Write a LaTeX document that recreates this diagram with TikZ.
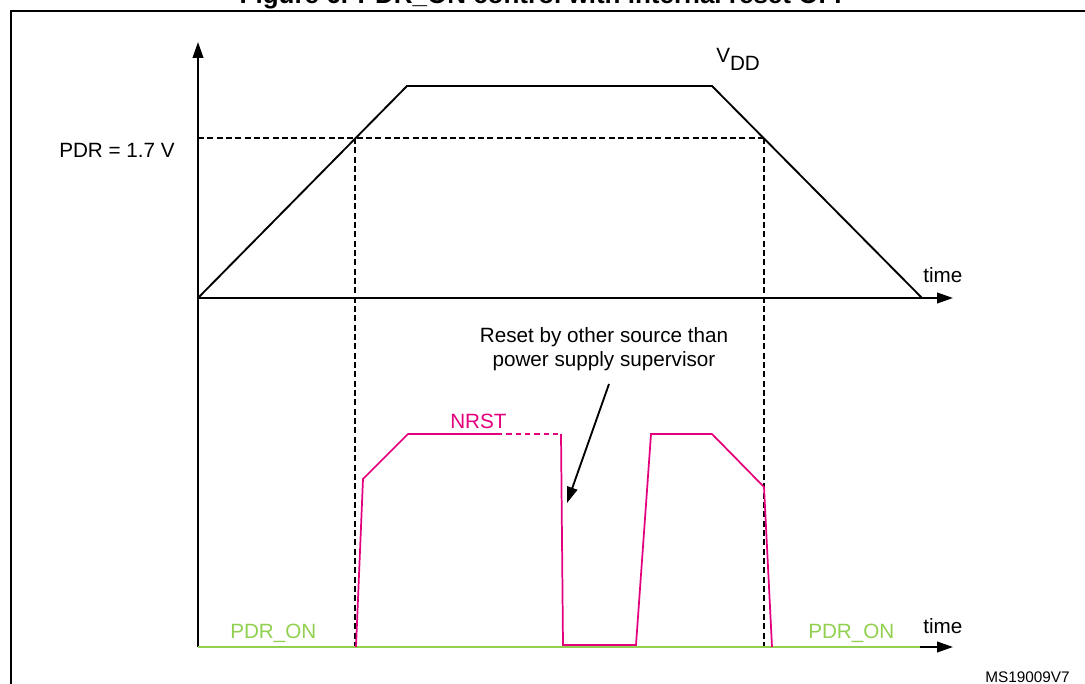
\documentclass[tikz,border=0pt]{standalone}
\usepackage{fontspec}
\setmainfont{Liberation Sans}
\usetikzlibrary{arrows.meta}
\definecolor{nrst-magenta}{RGB}{228,0,124}
\definecolor{pdr-green}{RGB}{146,208,80}
\tikzset{
    axis-line/.style = {draw=black, line width=1.4pt, -{Triangle[length=12pt,width=8pt]}},
    vdd-line/.style = {draw=black, line width=1.4pt},
    level-line/.style = {draw=black, line width=0.9pt, dash pattern=on 4.5pt off 2.5pt},
    nrst-line/.style = {draw=nrst-magenta, line width=1.3pt},
    pdr-line/.style = {draw=pdr-green, line width=2pt},
    plot-label/.style = {font=\fontsize{15.5}{18.4}\selectfont, inner sep=0pt},
}

\begin{document}
\begin{tikzpicture}[x=0.75pt, y=-0.75pt]
\useasboundingbox (0,0) rectangle (1085,684);
\draw[line width=1.6pt] (11,11) rectangle (1100,700);
\node[anchor=base, inner sep=0pt, font=\bfseries\fontsize{19.5}{22}\selectfont] (title) at (545,3.5) {Figure 6. PDR\_ON control with internal reset OFF};

\coordinate (origin) at (198,298);
\coordinate (low-origin) at (198,647);
\coordinate (v-tip) at (198,42);
\coordinate (t-tip) at (953,298);
\coordinate (low-t-tip) at (953,647);

% axes
\draw[axis-line] (low-origin) -- (v-tip);
\draw[axis-line] (origin) -- (t-tip);
\draw[axis-line] (low-origin) -- (low-t-tip);

% VDD ramp and PDR threshold
\draw[level-line] (198,138) -- (764,138);
\draw[level-line] (355,138) -- (355,647);
\draw[level-line] (764,138) -- (764,647);
\draw[vdd-line] (origin) -- (407,86) -- (712,86) -- (922,298);

\node[plot-label, anchor=base east] (pdr-level) at (175,158) {PDR = 1.7 V};
\node[plot-label, anchor=base west] (vdd) at (716,63) {V\raisebox{-0.65ex}{DD}};
\node[plot-label, anchor=base west] (time-up) at (923,283) {time};

% PDR_ON and NRST
\draw[pdr-line] (low-origin) -- (920,647);
\draw[nrst-line] (356,647) -- (363,479) -- (408,434) -- (497,434);
\draw[nrst-line, dash pattern=on 4pt off 3pt] (497,434) -- (561,434);
\draw[nrst-line] (561,434) -- (563,645) -- (636,645) -- (651,434) -- (712,434) -- (764,487) -- (772,647);

\node[plot-label, text=nrst-magenta, anchor=base west] (nrst) at (450,428) {NRST};
\node[plot-label, text=pdr-green, anchor=base west] (pdr-on-left) at (230,638) {PDR\_ON};
\node[plot-label, text=pdr-green, anchor=base west] (pdr-on-right) at (808,638) {PDR\_ON};
\node[plot-label, anchor=base west] (time-low) at (923,633) {time};

\node[plot-label, align=center, anchor=north] (reset-note) at (604,327) {Reset by other source than\\power supply supervisor};
\coordinate (pointer-start) at (609,384);
\coordinate (reset-point) at (567,503);
\draw[line width=1.4pt, -{Triangle[length=12pt,width=8pt]}] (pointer-start) -- (reset-point);

\node[anchor=base east, inner sep=0pt, font=\fontsize{11.5}{13}\selectfont] (fig-id) at (1070,682) {MS19009V7};
\end{tikzpicture}
\end{document}
